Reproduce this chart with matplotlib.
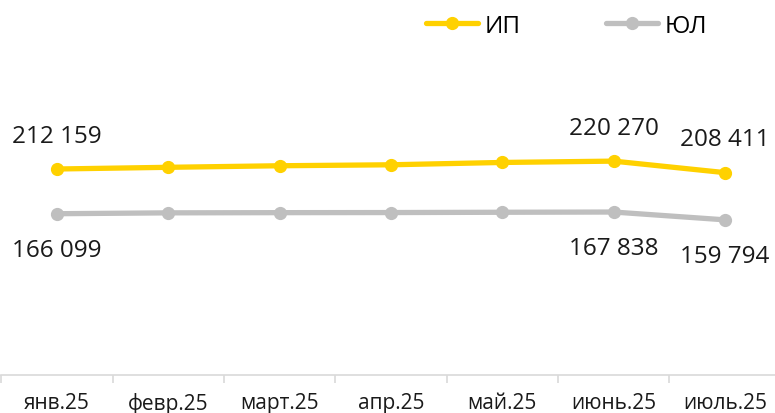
import matplotlib
matplotlib.use("Agg")
import matplotlib.pyplot as plt

months = ["янв.25", "февр.25", "март.25", "апр.25", "май.25", "июнь.25", "июль.25"]
ip_values = [212159, 213900, 215500, 216500, 218900, 220270, 208411]
ul_values = [166099, 167000, 167200, 167300, 167600, 167838, 159794]
ip_label_idx = [0, 5, 6]
ul_label_idx = [0, 5, 6]

YELLOW = "#FFD100"
GRAY = "#BFBFBF"

plt.rcParams['font.family'] = ['Open Sans', 'DejaVu Sans']

W, H = 775, 414
fig = plt.figure(figsize=(W / 100, H / 100), dpi=100)
left_px, right_px = 1.3, 780.7
bottom_px = 376
ymax = 300000
px_per_unit = (376 - 170) / 212159
top_px = bottom_px - ymax * px_per_unit
ax = fig.add_axes([left_px / W, (H - bottom_px) / H, (right_px - left_px) / W, (bottom_px - top_px) / H])
ax.set_xlim(-0.5, len(months) - 0.5)
ax.set_ylim(0, ymax)

x = list(range(len(months)))
ax.plot(x, ul_values, color=GRAY, lw=3.8, marker='o', ms=8.5, label="ЮЛ", solid_capstyle='round', zorder=3)
ax.plot(x, ip_values, color=YELLOW, lw=3.8, marker='o', ms=8.5, label="ИП", solid_capstyle='round', zorder=4)

def fmt(v):
    return f"{v:,}".replace(",", " ")

for i in ip_label_idx:
    ax.annotate(fmt(ip_values[i]), (x[i], ip_values[i]), xytext=(0, 24), textcoords='offset points',
                ha='center', va='center', fontsize=17.5, color='#1a1a1a', annotation_clip=False)
for i in ul_label_idx:
    ax.annotate(fmt(ul_values[i]), (x[i], ul_values[i]), xytext=(0, -26), textcoords='offset points',
                ha='center', va='center', fontsize=17.5, color='#1a1a1a', annotation_clip=False)

for s in ['top', 'right', 'left']:
    ax.spines[s].set_visible(False)
ax.spines['bottom'].set_color('#D9D9D9')
ax.spines['bottom'].set_linewidth(1.2)
ax.set_yticks([])
ax.set_xticks([i + 0.5 for i in range(-1, len(months))], minor=False)
ax.set_xticklabels([])
ax.tick_params(axis='x', which='major', length=6, color='#D9D9D9', width=1.2)
ax.set_xticks(x, minor=True)
ax.set_xticklabels(months, minor=True, fontsize=15, color='#1a1a1a')
ax.tick_params(axis='x', which='minor', length=0, pad=12)

handles, labels = ax.get_legend_handles_labels()
fs_leg = 17.5
em = fs_leg * 100 / 72
leg = fig.legend(handles[::-1], labels[::-1], loc='center left',
                 bbox_to_anchor=(416 / W, 1 - 27 / H), bbox_transform=fig.transFigure,
                 ncol=2, frameon=False, fontsize=fs_leg, handlelength=52 / em,
                 columnspacing=85 / em, handletextpad=7 / em, borderaxespad=0)

fig.savefig("out.png", dpi=100)
